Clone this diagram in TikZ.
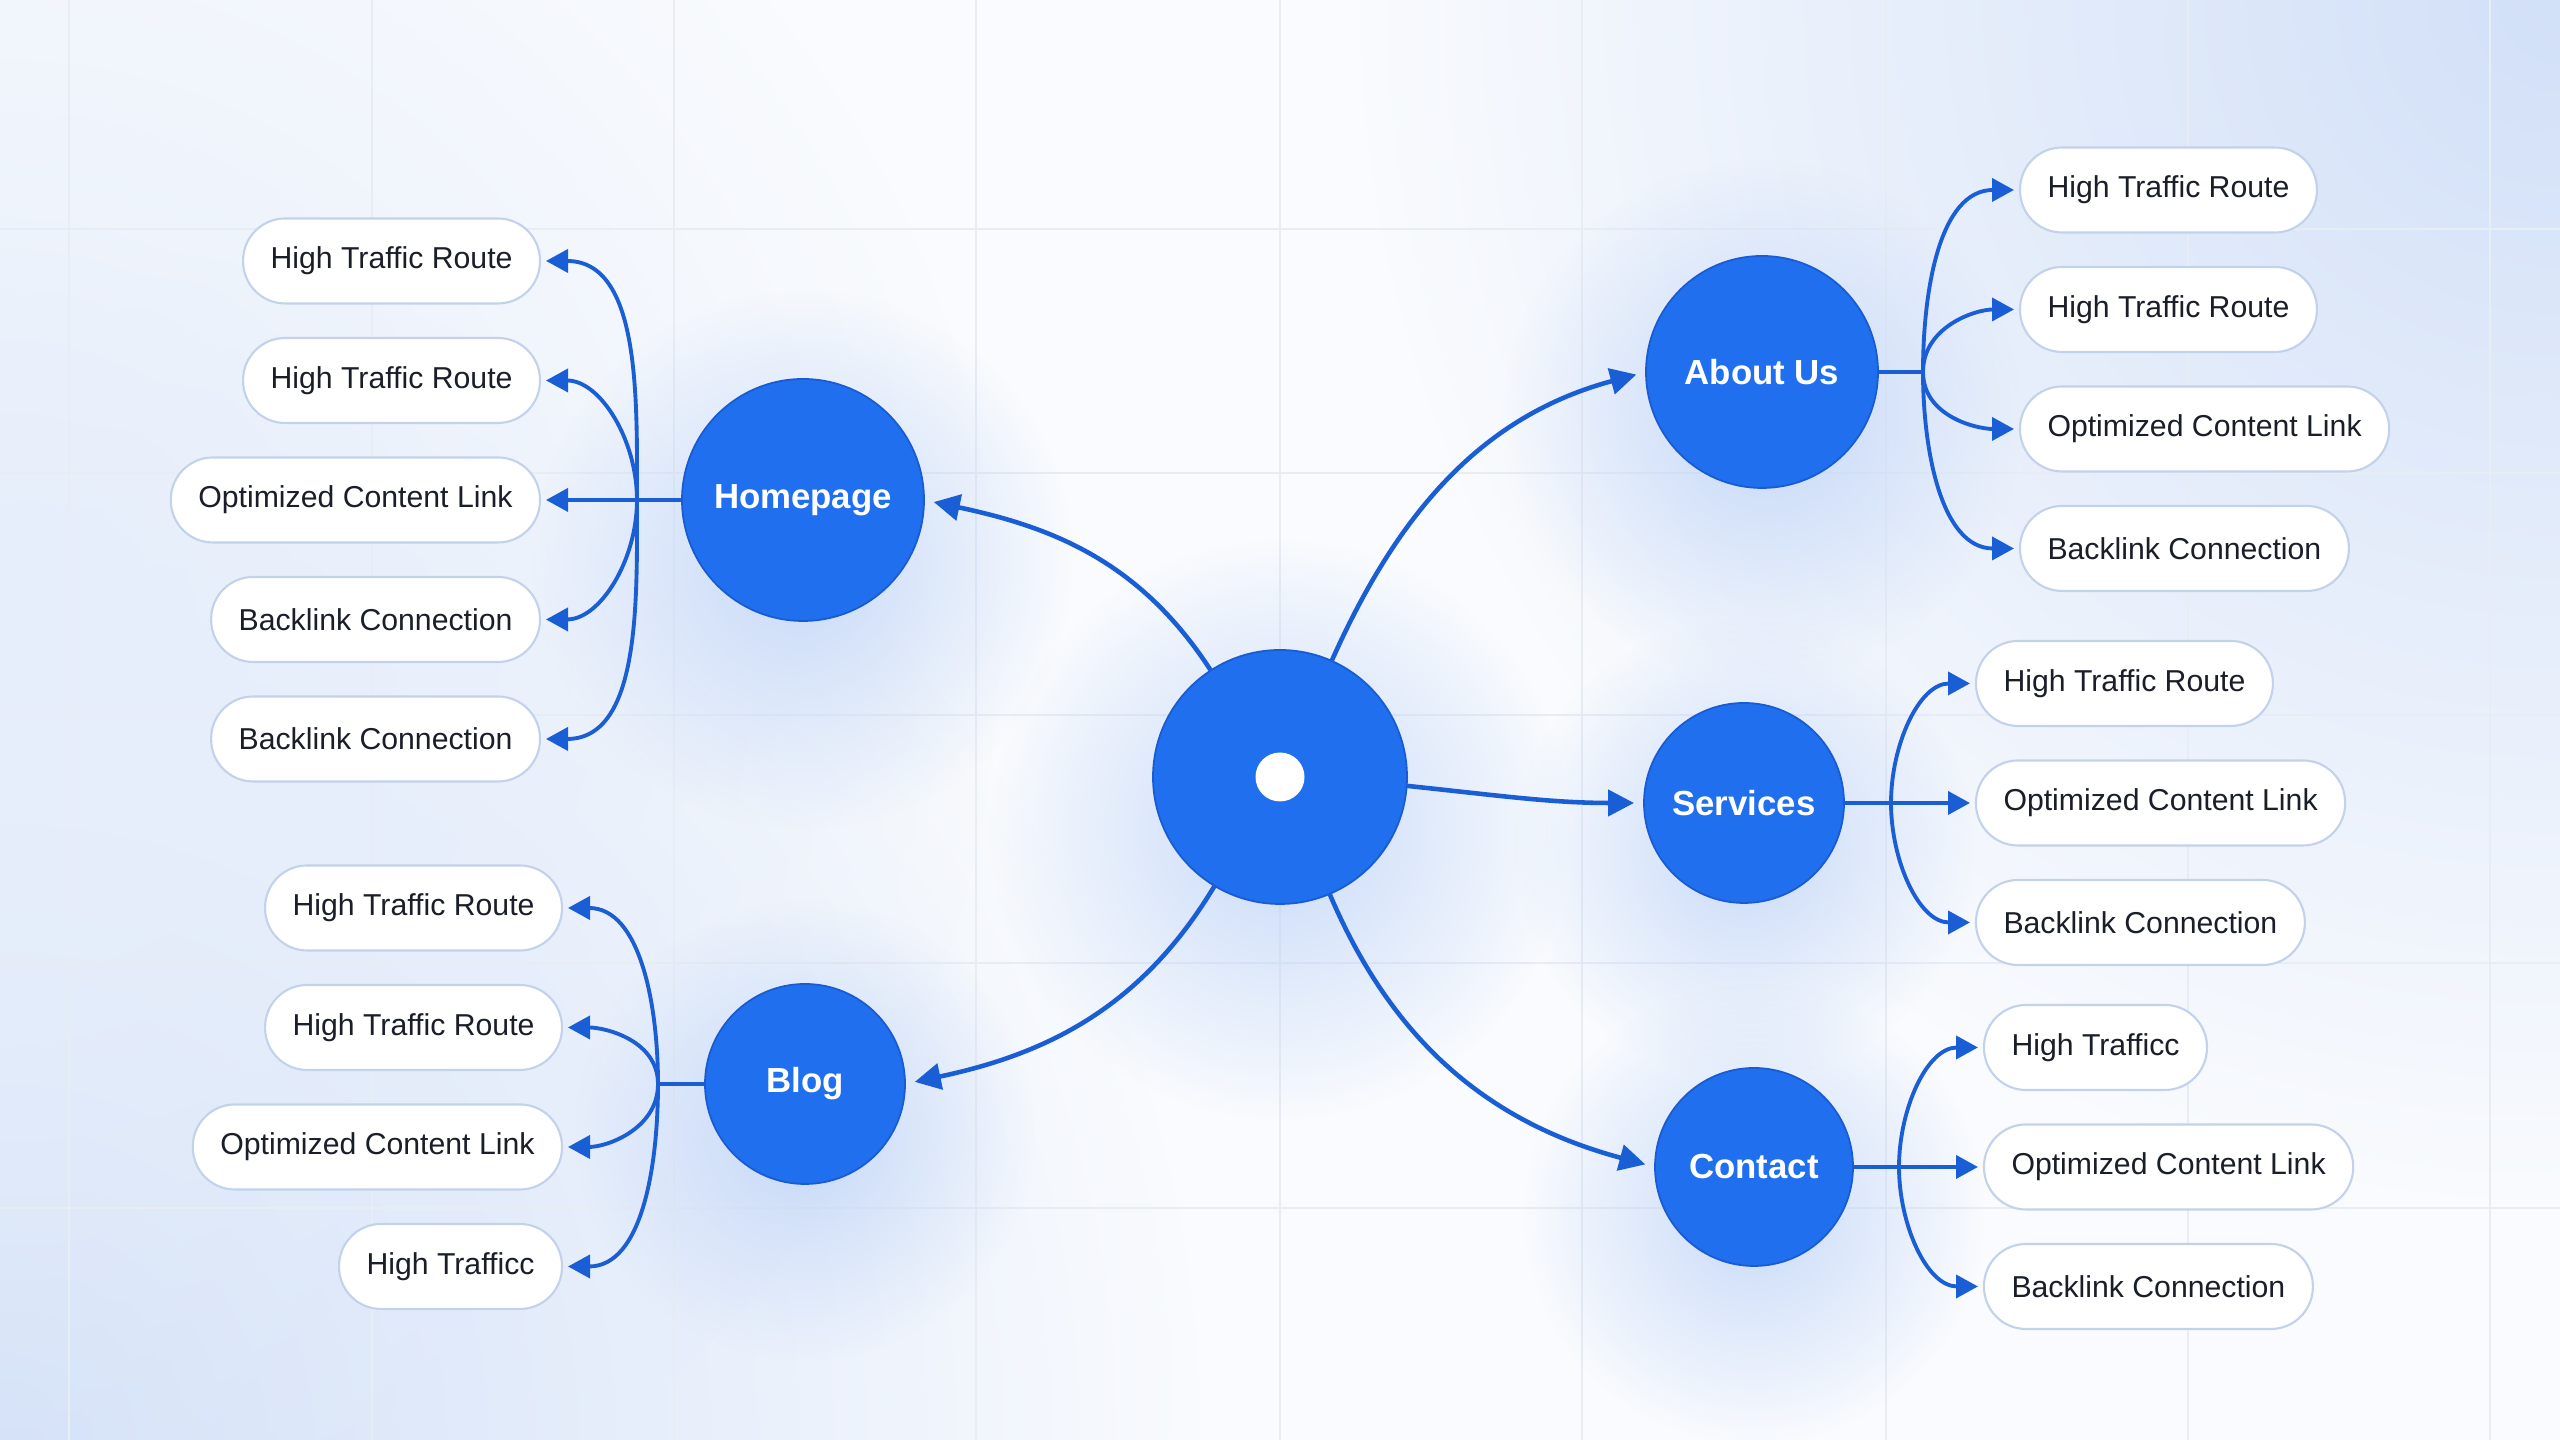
\documentclass[tikz,border=0pt]{standalone}
\usepackage{fontspec}
\setmainfont{Liberation Sans}
\usetikzlibrary{arrows.meta,positioning,fadings}
\definecolor{hubblue}{HTML}{1F6FEE}
\definecolor{hubedge}{HTML}{1A5BD2}
\definecolor{linkblue}{HTML}{1A5ED6}
\definecolor{pillline}{HTML}{C2D2EA}
\definecolor{inkdark}{HTML}{1A1E29}
\definecolor{bgwash}{HTML}{F9FBFE}
\definecolor{gridline}{HTML}{E8ECF3}
\definecolor{glowblue}{HTML}{D2E0F8}
\definecolor{shadowblue}{HTML}{BCD2F7}
\tikzfading[name=softfade, inner color=transparent!0, outer color=transparent!100]

\begin{document}
\begin{tikzpicture}[x=0.1mm, y=0.1mm, node distance=3.45mm,
  pill/.style={draw=pillline, line width=0.6pt, fill=white, rounded corners=4.2mm, minimum height=8.5mm,
               inner xsep=2.75mm, outer sep=0pt, text=inkdark, font=\fontsize{8.6}{10}\selectfont},
  page/.style={circle, draw=hubedge, line width=0.5pt, fill=hubblue, text=white, inner sep=0pt, outer sep=0pt,
               font=\bfseries\fontsize{9.9}{12}\selectfont},
  arr/.style={-{Triangle[length=2.6mm, width=2.6mm]}, line width=1.3pt, linkblue, shorten >=1mm},
  sub/.style={-{Triangle[length=2.2mm, width=2.3mm]}, line width=1.1pt, linkblue, shorten >=0.6mm},
  trunk/.style={line width=1.1pt, linkblue},
  glow/.style={path fading=softfade}]

  % backdrop
  \useasboundingbox (0,0) rectangle (2560,1440);
  \begin{scope}
    \clip (0,0) rectangle (2560,1440);
    \fill[bgwash] (0,0) rectangle (2560,1440);
    \fill[glowblue, glow] (2560,1440) circle (1200);
    \fill[glowblue, glow] (0,0) circle (1200);
    \fill[glowblue!55, glow] (0,800) circle (1000);
    \foreach \gx in {69,372,674,976,1280,1582,1886,2188,2490}
      \draw[gridline, line width=0.6pt] (\gx,0) -- (\gx,1440);
    \foreach \gy in {232,477,725,967,1211}
      \draw[gridline, line width=0.6pt] (0,\gy) -- (2560,\gy);
    \foreach \sx/\sy/\sr in {1280/610/290, 803/880/270, 1762/1020/260, 1744/590/230, 1754/226/230, 805/309/230}
      \fill[shadowblue, glow, fill opacity=0.8] (\sx,\sy) circle (\sr);
  \end{scope}

  % pages
  \node[page, minimum size=25.4mm] (hub) at (1280,663) {};
  \fill[white] (hub.center) circle (24.5);
  \node[page, minimum size=24.2mm] (home) at (803,940) {Homepage};
  \node[page, minimum size=23.2mm] (about) at (1762,1068) {About Us};
  \node[page, minimum size=20mm] (serv) at (1744,637) {Services};
  \node[page, minimum size=19.8mm] (cont) at (1754,273) {Contact};
  \node[page, minimum size=20mm] (blog) at (805,356) {Blog};

  % homepage links
  \node[pill, anchor=east] (h1) at (540,1179) {High Traffic Route};
  \node[pill, below=of h1.south east, anchor=north east] (h2) {High Traffic Route};
  \node[pill, below=of h2.south east, anchor=north east] (h3) {Optimized Content Link};
  \node[pill, below=of h3.south east, anchor=north east] (h4) {Backlink Connection};
  \node[pill, below=of h4.south east, anchor=north east] (h5) {Backlink Connection};

  % blog links
  \node[pill, anchor=east] (b1) at (562,532) {High Traffic Route};
  \node[pill, below=of b1.south east, anchor=north east] (b2) {High Traffic Route};
  \node[pill, below=of b2.south east, anchor=north east] (b3) {Optimized Content Link};
  \node[pill, below=of b3.south east, anchor=north east] (b4) {High Trafficc};

  % about us links
  \node[pill, anchor=west] (a1) at (2020,1250) {High Traffic Route};
  \node[pill, below=of a1.south west, anchor=north west] (a2) {High Traffic Route};
  \node[pill, below=of a2.south west, anchor=north west] (a3) {Optimized Content Link};
  \node[pill, below=of a3.south west, anchor=north west] (a4) {Backlink Connection};

  % services links
  \node[pill, anchor=west] (s1) at (1976,756.5) {High Traffic Route};
  \node[pill, below=of s1.south west, anchor=north west] (s2) {Optimized Content Link};
  \node[pill, below=of s2.south west, anchor=north west] (s3) {Backlink Connection};

  % contact links
  \node[pill, anchor=west] (c1) at (1984,392.5) {High Trafficc};
  \node[pill, below=of c1.south west, anchor=north west] (c2) {Optimized Content Link};
  \node[pill, below=of c2.south west, anchor=north west] (c3) {Backlink Connection};

  % hub to pages
  \draw[arr] (hub.123) to[out=123, in=-12] (home.east);
  \draw[arr] (hub.66) to[out=66, in=195] (about.west);
  \draw[arr] (hub.-4) to[out=-6, in=180] (serv.west);
  \draw[arr] (hub.-67) to[out=-67, in=165] (cont.west);
  \draw[arr] (hub.-121) to[out=-121, in=12] (blog.east);

  % fan-outs
  \coordinate (hj) at (637,940);
  \coordinate (bj) at (658,356);
  \coordinate (aj) at (1923,1068);
  \coordinate (sj) at (1891,637);
  \coordinate (cj) at (1899,273);

  \draw[sub] (home.west) -- (h3.east);
  \draw[sub] (hj) to[out=90, in=0] (h1.east);
  \draw[sub] (hj) to[out=90, in=0] (h2.east);
  \draw[sub] (hj) to[out=-90, in=0] (h4.east);
  \draw[sub] (hj) to[out=-90, in=0] (h5.east);

  \draw[trunk] (blog.west) -- (bj);
  \draw[sub] (bj) to[out=90, in=0] (b1.east);
  \draw[sub] (bj) to[out=90, in=0] (b2.east);
  \draw[sub] (bj) to[out=-90, in=0] (b3.east);
  \draw[sub] (bj) to[out=-90, in=0] (b4.east);

  \draw[trunk] (about.east) -- (aj);
  \draw[sub] (aj) to[out=90, in=180] (a1.west);
  \draw[sub] (aj) to[out=90, in=180] (a2.west);
  \draw[sub] (aj) to[out=-90, in=180] (a3.west);
  \draw[sub] (aj) to[out=-90, in=180] (a4.west);

  \draw[sub] (serv.east) -- (s2.west);
  \draw[sub] (sj) to[out=90, in=180] (s1.west);
  \draw[sub] (sj) to[out=-90, in=180] (s3.west);

  \draw[sub] (cont.east) -- (c2.west);
  \draw[sub] (cj) to[out=90, in=180] (c1.west);
  \draw[sub] (cj) to[out=-90, in=180] (c3.west);
\end{tikzpicture}
\end{document}
